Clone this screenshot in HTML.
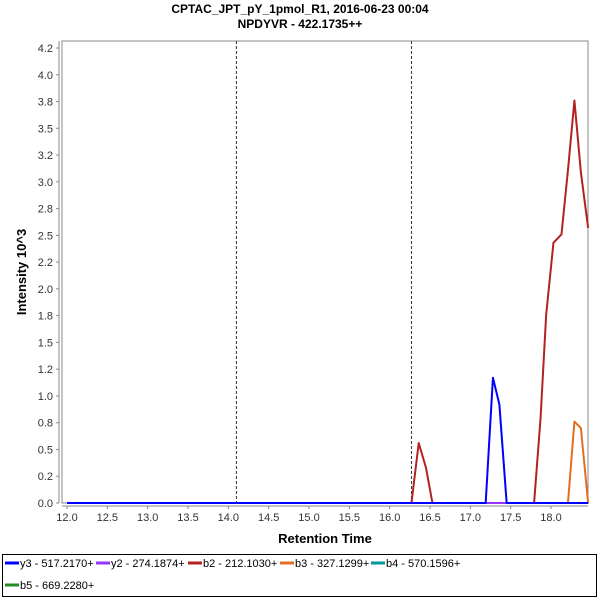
<!DOCTYPE html>
<html><head><meta charset="utf-8"><style>
body{margin:0;background:#fff;width:600px;height:600px;overflow:hidden;font-family:"Liberation Sans",sans-serif}
</style></head><body>
<svg id="chart" width="600" height="600" xmlns="http://www.w3.org/2000/svg" font-family="Liberation Sans, sans-serif">
<text x="300" y="13" text-anchor="middle" font-size="12" font-weight="bold">CPTAC_JPT_pY_1pmol_R1, 2016-06-23 00:04</text>
<text x="300" y="28" text-anchor="middle" font-size="12" font-weight="bold">NPDYVR - 422.1735++</text>
<rect x="62" y="41" width="526" height="462" fill="#fff" stroke="#888"/>
<line x1="59" y1="41" x2="59" y2="503" stroke="#888"/>
<line x1="62" y1="506" x2="588" y2="506" stroke="#888"/>
<g id="yticks"></g><g id="xticks"></g><g id="marks"></g><g id="series"></g>
<text transform="translate(26,272) rotate(-90)" text-anchor="middle" font-size="13" font-weight="bold">Intensity 10^3</text>
<text x="325" y="543" text-anchor="middle" font-size="13" font-weight="bold">Retention Time</text>
<rect x="2.5" y="554.5" width="594" height="42" fill="#fff" stroke="#000"/>
<g id="legend"></g>
</svg>
<script>
const yTicks=[0,0.25,0.5,0.75,1,1.25,1.5,1.75,2,2.25,2.5,2.75,3,3.25,3.5,3.75,4,4.25];
const yTickLabels=["0.0","0.2","0.5","0.8","1.0","1.2","1.5","1.8","2.0","2.2","2.5","2.8","3.0","3.2","3.5","3.8","4.0","4.2"];
const xTicks=[12,12.5,13,13.5,14,14.5,15,15.5,16,16.5,17,17.5,18];
const markerTimes=[14.1,16.27];
const seriesNames=["y3 - 517.2170+","y2 - 274.1874+","b2 - 212.1030+","b3 - 327.1299+","b4 - 570.1596+","b5 - 669.2280+"];
const seriesColors=["#0000ff","#9933ff","#b22222","#e07020","#009999","#228b22"];
const b2Times=[12.0,16.27,16.36,16.45,16.53,17.79,17.87,17.94,18.03,18.13,18.21,18.29,18.37,18.46];
const b2Values=[0,0,0.56,0.33,0,0,0.79,1.76,2.43,2.51,3.11,3.76,3.09,2.57];
const b3Times=[12.0,18.21,18.29,18.37,18.46];
const b3Values=[0,0,0.76,0.70,0];
const y3Times=[12.0,17.19,17.28,17.36,17.45,18.46];
const y3Values=[0,0,1.17,0.92,0,0];
const flatTimes=[12.0,18.46];
const flatValues=[0,0];
const X=t=>67+(t-12)*80.67;
const Y=v=>503-v*107.06;
const NS="http://www.w3.org/2000/svg";
function mk(tag,attrs,parent){const e=document.createElementNS(NS,tag);for(const k in attrs)e.setAttribute(k,attrs[k]);document.getElementById(parent).appendChild(e);return e;}
yTicks.forEach((v,i)=>{
 const l=mk("line",{x1:56,x2:59,y1:Y(v),y2:Y(v),stroke:"#888"},"yticks");
 
 
 const t=mk("text",{x:53,y:Y(v)+4,"text-anchor":"end","font-size":"11",fill:"#333"},"yticks");
 
 
 t.textContent=yTickLabels[i];
});
xTicks.forEach(v=>{
 const l=mk("line",{x1:X(v),x2:X(v),y1:506,y2:509,stroke:"#888"},"xticks");
 
 
 const t=mk("text",{x:X(v),y:521,"text-anchor":"middle","font-size":"11",fill:"#333"},"xticks");
 
 
 t.textContent=v.toFixed(1);
});
markerTimes.forEach(t=>{
 const l=mk("line",{x1:X(t),x2:X(t),y1:41,y2:503,stroke:"#333","stroke-dasharray":"3,2"},"marks");
 
 
});
function line(times,vals,color,name){
 const p=mk("polyline",{points:times.map((t,i)=>X(t)+","+Y(vals[i])).join(" "),fill:"none",stroke:color,"stroke-width":"2","stroke-linejoin":"round"},"series");
 
 
}
line(flatTimes,flatValues,seriesColors[5],"series-b5");
line(flatTimes,flatValues,seriesColors[4],"series-b4");
line(b3Times,b3Values,seriesColors[3],"series-b3");
line(b2Times,b2Values,seriesColors[2],"series-b2");
line(flatTimes,flatValues,seriesColors[1],"series-y2");
line(y3Times,y3Values,seriesColors[0],"series-y3");
const legX=[5,96,188,280,371,5],legY=[567,567,567,567,567,589];
seriesNames.forEach((n,i)=>{
 const g=mk("g",{},"legend");
 
 
 const s=document.createElementNS(NS,"line");
 s.setAttribute("x1",legX[i]);s.setAttribute("x2",legX[i]+14);s.setAttribute("y1",legY[i]-4);s.setAttribute("y2",legY[i]-4);
 s.setAttribute("stroke",seriesColors[i]);s.setAttribute("stroke-width","3");
 
 
 g.appendChild(s);
 const t=document.createElementNS(NS,"text");
 t.setAttribute("x",legX[i]+15);t.setAttribute("y",legY[i]);t.setAttribute("font-size","11");
 
 
 t.textContent=n;g.appendChild(t);
});
</script>
</body></html>
